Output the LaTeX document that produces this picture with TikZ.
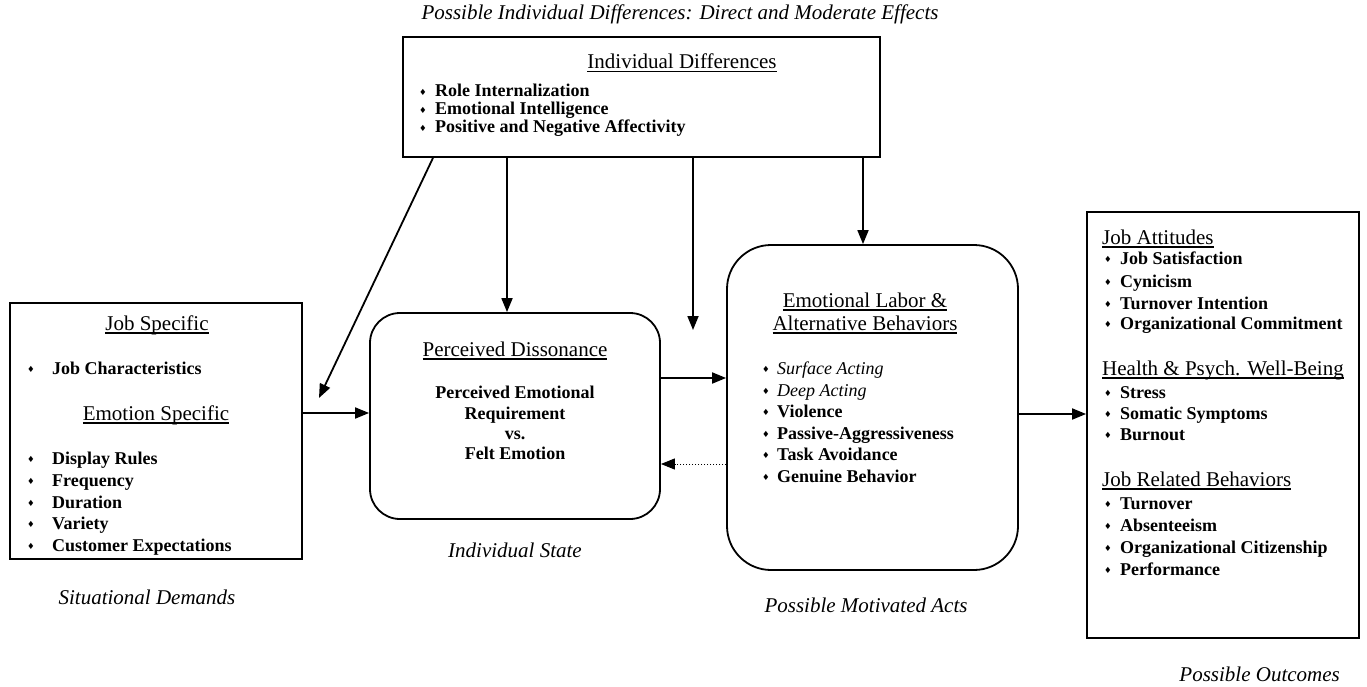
\documentclass[tikz,border=0pt]{standalone}
\usepackage{fontspec}
\setmainfont{Liberation Serif}
\newfontfamily\symfont{DejaVu Sans}
\usetikzlibrary{arrows.meta}
% underline at a fixed depth below the baseline
\newcommand{\uln}[1]{\setbox0\hbox{#1}\rlap{\rule[-3.5pt]{\wd0}{1.1pt}}\box0}
% small diamond bullet in a box of the given width
\newcommand{\bul}[1]{\makebox[#1][l]{{\symfont\fontsize{8.5}{8.5}\selectfont\raisebox{1.2pt}{♦}}}}
\begin{document}
\begin{tikzpicture}[x=1pt,y=-1pt,
  box/.style={draw, line width=1.8pt, inner sep=0pt},
  ttl/.style={inner sep=0pt, anchor=base, font=\fontsize{21}{24}\selectfont},
  itm/.style={inner sep=0pt, anchor=base west, font=\bfseries\fontsize{18}{20}\selectfont},
  ctr/.style={itm, anchor=base},
  lbl/.style={inner sep=0pt, anchor=base, font=\itshape\fontsize{21}{24}\selectfont},
  arr/.style={line width=1.8pt, -{Triangle[length=14pt,width=11pt]}},
  darr/.style={line width=1pt, dotted, -{Triangle[length=14pt,width=11pt]}}
]
\useasboundingbox (0,0) rectangle (1367,687);

% boxes
\node[box, minimum width=477pt, minimum height=120pt] (ind) at (641.5,97) {};
\node[box, minimum width=292pt, minimum height=256pt] (job) at (156,431) {};
\node[box, rounded corners=30pt, minimum width=290pt, minimum height=206pt] (dis) at (515,416) {};
\node[box, rounded corners=44pt, minimum width=291pt, minimum height=325pt] (emo) at (872.5,407.5) {};
\node[box, minimum width=272pt, minimum height=426pt] (out) at (1223,425) {};

% individual differences
\node[lbl] (cap-ind) at (680,20) {Possible Individual Differences: Direct and Moderate Effects};
\node[ttl] (ind-t) at (682,69) {\uln{Individual Differences}};
\node[itm] (ind-1) at (419,97) {\bul{16pt}Role Internalization};
\node[itm] (ind-2) at (419,115) {\bul{16pt}Emotional Intelligence};
\node[itm] (ind-3) at (419,133) {\bul{16pt}Positive and Negative Affectivity};

% situational demands
\node[ttl] (job-t) at (157,330) {\uln{Job Specific}};
\node[itm] (job-1) at (27,374) {\bul{25pt}Job Characteristics};
\node[ttl] (job-t2) at (156,420) {\uln{Emotion Specific}};
\node[itm] (job-2) at (27,464) {\bul{25pt}Display Rules};
\node[itm] (job-3) at (27,486) {\bul{25pt}Frequency};
\node[itm] (job-4) at (27,508) {\bul{25pt}Duration};
\node[itm] (job-5) at (27,529) {\bul{25pt}Variety};
\node[itm] (job-6) at (27,551) {\bul{25pt}Customer Expectations};
\node[lbl] (cap-job) at (147,604) {Situational Demands};

% perceived dissonance
\node[ttl] (dis-t) at (515,356) {\uln{Perceived Dissonance}};
\node[ctr] (dis-1) at (515,398) {Perceived Emotional};
\node[ctr] (dis-2) at (515,419) {Requirement};
\node[ctr] (dis-3) at (515,439) {vs.};
\node[ctr] (dis-4) at (515,459) {Felt Emotion};
\node[lbl] (cap-dis) at (515,557) {Individual State};

% emotional labor
\node[ttl] (emo-t1) at (865,307) {\uln{Emotional Labor \&}};
\node[ttl] (emo-t2) at (865,330) {\uln{Alternative Behaviors}};
\node[itm] (emo-1) at (762,374) {\bul{15pt}{\mdseries\itshape Surface Acting}};
\node[itm] (emo-2) at (762,396) {\bul{15pt}{\mdseries\itshape Deep Acting}};
\node[itm] (emo-3) at (762,417) {\bul{15pt}Violence};
\node[itm] (emo-4) at (762,439) {\bul{15pt}Passive-Aggressiveness};
\node[itm] (emo-5) at (762,460) {\bul{15pt}Task Avoidance};
\node[itm] (emo-6) at (762,482) {\bul{15pt}Genuine Behavior};
\node[lbl] (cap-emo) at (866,612) {Possible Motivated Acts};

% outcomes
\node[ttl, anchor=base west] (out-t1) at (1102,244) {\uln{Job Attitudes}};
\node[itm] (out-1) at (1104,264) {\bul{16pt}Job Satisfaction};
\node[itm] (out-2) at (1104,287) {\bul{16pt}Cynicism};
\node[itm] (out-3) at (1104,309) {\bul{16pt}Turnover Intention};
\node[itm] (out-4) at (1104,329) {\bul{16pt}Organizational Commitment};
\node[ttl, anchor=base west] (out-t2) at (1102,375) {\uln{Health \& Psych. Well-Being}};
\node[itm] (out-5) at (1104,398) {\bul{16pt}Stress};
\node[itm] (out-6) at (1104,419) {\bul{16pt}Somatic Symptoms};
\node[itm] (out-7) at (1104,440) {\bul{16pt}Burnout};
\node[ttl, anchor=base west] (out-t3) at (1102,486) {\uln{Job Related Behaviors}};
\node[itm] (out-8) at (1104,509) {\bul{16pt}Turnover};
\node[itm] (out-9) at (1104,531) {\bul{16pt}Absenteeism};
\node[itm] (out-10) at (1104,553) {\bul{16pt}Organizational Citizenship};
\node[itm] (out-11) at (1104,575) {\bul{16pt}Performance};
\node[lbl, anchor=base east] (cap-out) at (1340,681) {Possible Outcomes};

% rows and columns for the connectors
\coordinate (rowA) at (0,413);
\coordinate (rowB) at (0,378);
\coordinate (rowC) at (0,464);
\coordinate (rowD) at (0,414);
\coordinate (colA) at (507,0);
\coordinate (colB) at (693,0);
\coordinate (colC) at (863,0);
\coordinate (colD) at (433,0);
\coordinate (dtip) at (319,398);
\coordinate (mod) at (693,330);

% connectors
\draw[arr] (ind.south -| colD) -- (dtip);
\draw[arr] (ind.south -| colA) -- (dis.north -| colA);
\draw[arr] (ind.south -| colB) -- (mod);
\draw[arr] (ind.south -| colC) -- (emo.north -| colC);
\draw[arr] (job.east |- rowA) -- (dis.west |- rowA);
\draw[arr] (dis.east |- rowB) -- (emo.west |- rowB);
\draw[darr] (emo.west |- rowC) -- (dis.east |- rowC);
\draw[arr] (emo.east |- rowD) -- (out.west |- rowD);
\end{tikzpicture}
\end{document}
